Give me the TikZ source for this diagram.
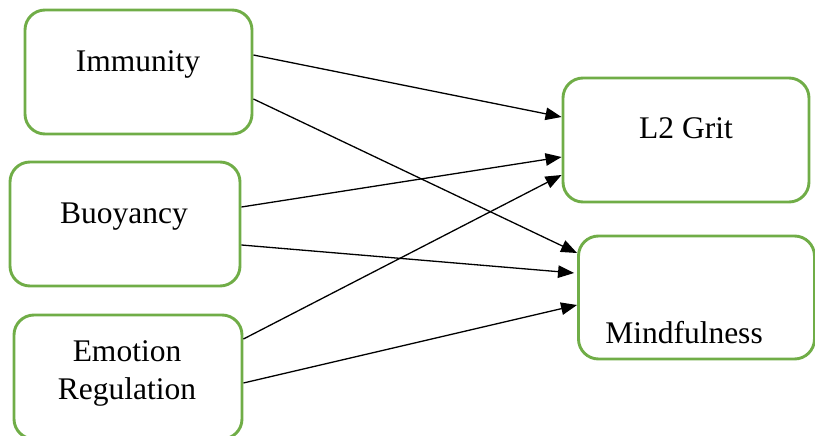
\documentclass[tikz,border=0pt]{standalone}
\usepackage{fontspec}
\setmainfont{Liberation Serif}
\usetikzlibrary{arrows.meta}
\definecolor{boxgreen}{HTML}{70AD47}
\begin{document}
\begin{tikzpicture}[x=1pt,y=-1pt,
  box/.style={draw=boxgreen, line width=2.9pt, rounded corners=20pt, fill=white, inner sep=0pt},
  lbl/.style={anchor=base, inner sep=0pt, font=\fontsize{31.5}{38}\selectfont},
  link/.style={line width=1.3pt, -{Triangle[length=16pt,width=12.5pt]}}]
\useasboundingbox (0,0) rectangle (815,436);
\clip (0,0) rectangle (815,436);
% boxes
\node[box, minimum width=227pt, minimum height=124pt] (imm) at (138.5,72) {};
\node[box, minimum width=230pt, minimum height=124pt] (buo) at (125,224) {};
\node[box, minimum width=228pt, minimum height=124pt] (emo) at (128,377) {};
\node[box, minimum width=246pt, minimum height=124pt] (grit) at (686,140) {};
\node[box, minimum width=236pt, minimum height=123pt] (mind) at (696.5,297.5) {};
% labels
\node[lbl] (immt) at (138,72) {Immunity};
\node[lbl] (buot) at (124,223) {Buoyancy};
\node[lbl] (emot1) at (127,361) {Emotion};
\node[lbl] (emot2) at (127,399) {Regulation};
\node[lbl] (gritt) at (686,139) {L2 Grit};
\node[lbl] (mindt) at (684,343) {Mindfulness};
% connectors
\draw[link] ([yshift=17pt]imm.east) -- ([yshift=23pt]grit.west);
\draw[link] ([yshift=-27pt]imm.east) -- ([yshift=44.5pt]mind.west);
\draw[link] ([yshift=17pt]buo.east) -- ([yshift=-17pt]grit.west);
\draw[link] ([yshift=-21pt]buo.east) -- ([yshift=24.5pt,xshift=-3pt]mind.west);
\draw[link] ([yshift=38pt]emo.east) -- ([yshift=-35pt]grit.west);
\draw[link] ([yshift=-6pt]emo.east) -- ([yshift=-7.5pt]mind.west);
\end{tikzpicture}
\end{document}
